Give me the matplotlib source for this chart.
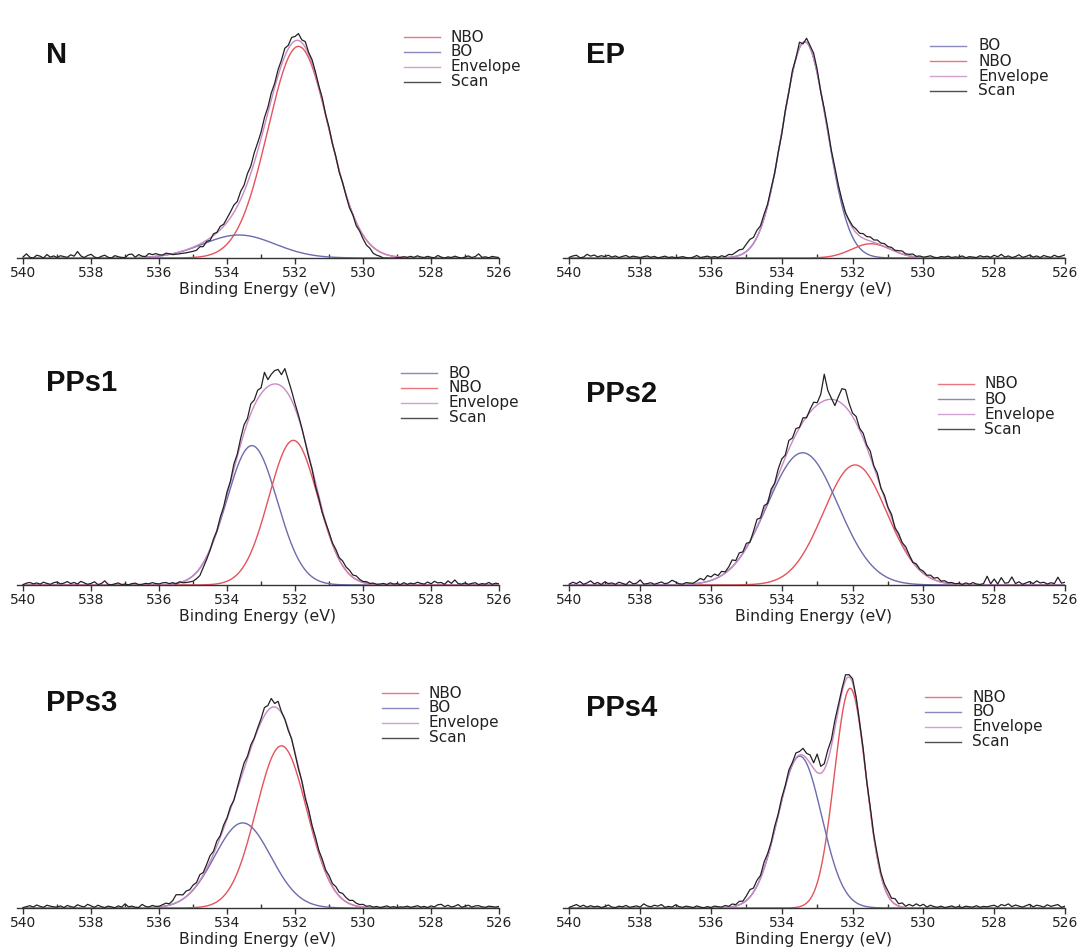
import numpy as np
import matplotlib
matplotlib.use("Agg")
import matplotlib.pyplot as plt
from matplotlib.lines import Line2D
from matplotlib.ticker import MultipleLocator

W, H, DPI = 1081, 949, 100

# scan grid (eV), one residual value per point
E_FIRST, E_LAST, E_STEP = 540.0, 526.0, 0.1

# fitted components: (centre eV, height a.u., fwhm eV)
N_NBO = (531.9, 92.0, 2.12)
N_BO = (533.65, 10.0, 2.5)
EP_BO = (533.35, 94.0, 1.47)
EP_NBO = (531.48, 6.2, 1.3)
PPS1_BO = (533.27, 60.6, 1.75)
PPS1_NBO = (532.05, 62.9, 1.7)
PPS2_NBO = (531.93, 52.2, 2.1)
PPS2_BO = (533.41, 57.5, 2.35)
PPS3_NBO = (532.4, 70.5, 1.75)
PPS3_BO = (533.54, 37.0, 1.95)
PPS4_NBO = (532.07, 95.5, 1.05)
PPS4_BO = (533.49, 66.0, 1.45)

# scan minus envelope (540.0 -> 526.0 eV)
N_RESID = [0.5, 1.8, 0.3, 0, 1.2, 0.8, 0, 1.5, 0.4, 0.9,
           0.2, 1.0, 0.6, 0.3, 1.4, 0.8, 2.8, 0.9, 0.2, 1.1,
           1.6, 0.4, 0, 0.7, 1.2, 0.3, 0, 1.0, 0.5, 0.2,
           0.1, 1.4, 1.6, 0.2, 1.3, 0.5, 0.3, 1.5, 0.9, 1.2,
           0.6, 0.2, 0.8, 0.3, -0.4, -0.6, -0.8, -1.0, -1.3, -1.5,
           -1.8, -2.0, -1.2, -1.9, -0.5, -1.0, 0.8, 0.2, 1.5, 0.9,
           1.8, 2.5, 3.2, 2.1, 3.5, 2.8, 4.0, 3.1, 4.2, 3.5,
           2.8, 3.6, 2.4, 3.0, 1.8, 2.6, 2.2, 3.4, 1.5, 2.7,
           1.9, 3.0, 1.2, 2.5, 0.8, 1.6, 1.0, 0.3, 0.9, -0.2,
           0.5, -0.4, 0.3, -0.8, 0.2, -0.5, -1.2, -0.3, -1.5, -0.8,
           -1.6, -2.2, -1.8, -2.6, -2.3, -1.9, -2.0, -1.5, -1.2, -0.9,
           -0.3, -0.2, 0.3, 0.1, 0.6, 0.2, 0.9, 0.4, 0.2, 0.7,
           0.3, 0.1, 1.1, 0.4, 0, 0.5, 0.2, 0.8, 0.3, 0,
           0.4, 0.9, 0.2, 0.6, 1.8, 0.3, 0.5, 0.1, 0.7, 0.4,
           0.2]
EP_RESID = [0.3, 0.9, 1.2, 0.1, 0.4, 1.6, 0.8, 1.3, 0.5, 1.0,
            0.6, 1.2, 0.4, 0.9, 0.2, 0.7, 1.1, 0.3, 0.8, 0.5,
            0.2, 0.6, 0.9, 0.3, 0.7, 0.1, 0.4, 0.8, 0.2, 0.5,
            0.1, 0.3, 0.6, 0.2, 0, 0.4, 1.1, 0.2, 0.5, 0.8,
            0.3, 0.6, 0.2, 0.9, 0.4, 1.3, 1.0, 1.8, 2.4, 2.0,
            3.2, 3.8, 2.6, 3.0, 1.4, 1.8, 0.6, 0.9, -0.3, 0.4,
            -0.8, 0.5, -0.4, 1.2, 0.2, 2.5, -0.6, 1.8, 0.9, 2.2,
            1.5, -0.5, 0.8, 1.2, 0.3, 1.0, 0.4, 0.2, -0.3, 0.6,
            0.9, 1.6, 1.2, 2.0, 1.4, 1.8, 1.0, 1.5, 0.8, 1.2,
            0.6, 1.0, 0.4, 0.9, 1.3, 0.5, 0.7, 1.1, 0.3, 0.6,
            0.2, 0.5, 0.9, 0.3, 0.1, 0.6, 0.4, 0.8, 0.2, 0.5,
            0.3, 0.9, 0.1, 0.6, 0.4, 0.2, 1.0, 0.5, 0.8, 0.3,
            1.2, 0.5, 1.6, 0.4, 0.9, 0.2, 0.6, 1.4, 0.3, 0.7,
            1.3, 0.4, 0.9, 0.2, 1.1, 0.6, 0.3, 1.2, 0.5, 0.8,
            1.4]
PPS1_RESID = [0.2, 0.8, 1.1, 0.5, 0.9, 0.4, 1.2, 0.7, 0.3, 1.0,
              1.3, 0.5, 0.8, 1.5, 0.6, 1.1, 0.4, 1.6, 0.9, 0.3,
              0.7, 1.4, 0.2, 0.6, 1.8, 0.3, 0.1, 0.5, 0.9, 0.2,
              0.4, 0.1, 0.6, 0.8, 0.2, 0.3, 0.7, 0.5, 1.0, 0.6,
              0.4, 0.8, 0.9, 0.3, 0.6, -0.2, 0.4, -0.5, -1.0, -1.6,
              -2.4, -2.8, -3.2, -2.0, -1.2, -0.5, 0.6, -0.2, 1.0, 0.4,
              1.5, 0.5, 2.2, 1.0, 2.6, 3.5, 1.8, 4.2, 2.4, 3.8,
              2.5, 7.5, 3.0, 4.5, 5.8, 6.5, 5.0, 9.0, 6.2, 4.0,
              2.0, 1.2, 0.5, -0.5, -1.0, -0.3, -1.5, -0.8, -1.2, -0.2,
              0.5, 0.2, 1.2, 0.8, 2.0, 1.5, 1.8, 1.0, 1.6, 0.8,
              0.4, 0.7, 0.2, 0.5, 0.1, 0.3, 0.6, 0.2, 0.9, 0.4,
              0.6, 0.2, 1.0, 0.3, 0.8, 0.5, 1.2, 0.7, 0.4, 1.3,
              0.5, 1.6, 0.9, 1.1, 0.3, 1.8, 0.7, 2.2, 0.6, 0.4,
              0.9, 0.3, 0.7, 1.0, 0.2, 0.6, 0.4, 1.1, 0.3, 0.8,
              0.5]
PPS2_RESID = [0.4, 1.2, 0.6, 1.5, 0.3, 0.9, 1.8, 0.5, 1.1, 0.2,
              1.4, 0.6, 0.9, 0.3, 1.2, 0.7, 0.2, 1.6, 0.5, 0.8,
              2.2, 0.4, 0.6, 1.0, 0.3, 0.8, 1.3, 0.5, 0.9, 2.0,
              1.2, 0.4, 0.2, 0.8, 0.5, 0.3, 1.1, 2.0, 1.0, 2.6,
              1.5, 2.2, 0.8, 1.8, 0.5, 1.4, 3.0, 1.0, 2.4, 0.6,
              1.8, -0.5, 1.2, 3.2, 0.4, 2.0, -0.8, 1.5, 0.2, 2.5,
              3.0, 1.0, 3.8, 1.5, 2.5, 0.2, 1.8, -0.5, 1.2, 2.6,
              1.0, 3.5, 11.5, 4.0, 0.5, -2.5, 2.0, 6.5, 7.5, 3.5,
              1.5, 2.8, 0.8, 2.2, 1.0, 2.5, 0.5, 1.8, -0.2, 1.2,
              0.4, 1.5, -0.6, 0.8, 0.2, 1.4, 0.5, -0.4, 0.9, 0.3,
              0.8, 0.2, 1.2, 0.6, 1.5, 0.4, 0.9, 0.3, 0.6, 0.2,
              0.5, 0.1, 0.8, 0.3, 1.0, 0.4, 0.2, 0.6, 3.8, 0.5,
              2.6, 0.4, 3.2, 0.8, 1.0, 3.5, 0.6, 1.4, 0.3, 0.9,
              1.5, 0.6, 1.8, 0.9, 1.2, 0.4, 1.0, 0.6, 3.4, 0.8,
              1.2]
PPS3_RESID = [0.2, 0.6, 1.0, 0.4, 1.3, 0.7, 0.3, 1.2, 0.8, 0.5,
              0.4, 0.9, 0.2, 1.1, 0.6, 0.3, 1.4, 0.8, 0.5, 1.6,
              0.9, 0.3, 1.2, 0.6, 0.2, 0.8, 0.5, 0.1, 0.9, 0.4,
              1.8, 0.5, 0.8, 0.3, 0.2, 1.5, 0.6, 0.3, 0.9, 0.4,
              0.3, 0.8, 1.2, 0.6, 1.5, 3.5, 2.8, 1.8, 2.4, 1.5,
              2.0, 1.2, 2.5, 1.0, 1.8, 2.6, 1.2, 2.2, 0.8, 1.5,
              0.6, 1.2, -0.4, 0.8, 1.8, 2.5, 1.0, 1.6, 0.4, 0.9,
              1.5, 3.5, 2.2, 4.0, 1.5, 3.2, 0.5, 0.2, -0.8, 0.4,
              -0.5, -1.0, 0.3, -0.6, 0.8, 0.2, 1.0, 0.5, 1.4, 0.8,
              1.8, 1.2, 2.2, 1.6, 2.5, 1.8, 1.4, 2.0, 1.2, 0.9,
              1.2, 0.5, 0.8, 0.3, 0.6, 0.2, 0.5, 0.9, 0.3, 0.6,
              0.2, 0.5, 0.4, 0.8, 0.3, 0.6, 1.0, 0.4, 0.7, 0.2,
              0.9, 0.5, 1.4, 1.6, 0.6, 1.2, 0.4, 0.8, 1.5, 0.3,
              0.8, 1.2, 0.4, 0.9, 1.0, 0.5, 0.3, 0.8, 0.6, 0.4,
              0.7]
PPS4_RESID = [0.3, 0.9, 1.5, 0.6, 1.2, 0.4, 1.0, 0.5, 0.8, 0.2,
              0.6, 1.3, 0.4, 0.2, 0.8, 0.5, 1.1, 0.3, 0.6, 0.9,
              0.4, 1.8, 0.9, 0.5, 1.2, 0.8, 1.5, 0.3, 0.7, 0.4,
              1.4, 0.6, 0.3, 0.8, 0.5, 0.2, 0.9, 0.4, 0.1, 0.6,
              0.2, 0.8, 0.5, 0.3, 0.9, 0.4, 1.2, 0.6, 1.5, 0.8,
              2.0, 3.2, 1.8, 2.5, 1.2, 2.8, 1.5, 0.8, 1.6, 0.5,
              1.2, 0.4, 1.8, 0.9, 2.2, 1.5, 3.0, 2.2, 3.6, 2.5,
              8.0, 3.0, 2.5, 4.5, 2.8, 3.5, 2.0, 1.5, 2.5, 1.0,
              1.8, 0.5, -0.8, 0.5, -0.5, 1.2, 0.6, 1.5, 1.0, 1.4,
              2.0, 1.2, 2.4, 1.0, 1.8, 0.6, 1.5, 0.8, 1.8, 0.9,
              1.6, 0.4, 1.2, 0.6, 0.3, 0.8, 0.2, 0.5, 0.9, 0.3,
              0.6, 0.2, 0.8, 0.5, 0.4, 1.0, 0.3, 0.7, 0.5, 0.9,
              1.2, 0.4, 1.5, 1.0, 1.8, 0.6, 1.3, 0.8, 0.4, 1.0,
              1.6, 0.5, 1.2, 0.9, 0.4, 1.4, 0.7, 1.1, 1.5, 0.3,
              0.8]

COLORS = {'NBO': '#e5535c', 'BO': '#6c6cae', 'Envelope': '#c98ac6', 'Scan': '#222222'}

# title, components in legend order, residual, column, row,
# title baseline y px, legend (line x, text x, first row y) in px
PANELS = [
    ('N', [('NBO', N_NBO), ('BO', N_BO)], N_RESID, 0, 0, 63, (404, 451, 37)),
    ('EP', [('BO', EP_BO), ('NBO', EP_NBO)], EP_RESID, 1, 0, 63, (930, 978, 46)),
    ('PPs1', [('BO', PPS1_BO), ('NBO', PPS1_NBO)], PPS1_RESID, 0, 1, 391, (401, 449, 373)),
    ('PPs2', [('NBO', PPS2_NBO), ('BO', PPS2_BO)], PPS2_RESID, 1, 1, 402, (938, 984, 384)),
    ('PPs3', [('NBO', PPS3_NBO), ('BO', PPS3_BO)], PPS3_RESID, 0, 2, 711, (382, 429, 693)),
    ('PPs4', [('NBO', PPS4_NBO), ('BO', PPS4_BO)], PPS4_RESID, 1, 2, 716, (925, 972, 697)),
]

COL_X = [(17, 499), (563, 1065)]
ROW_BASE = [258, 585, 908]
AX_H = 253
Y_TOP = 110


def gauss(e, centre, height, fwhm):
    return height * np.exp(-4 * np.log(2) * ((e - centre) / fwhm) ** 2)


def fx(px):
    return px / W


def fy(py):
    return 1 - py / H


fig = plt.figure(figsize=(W / DPI, H / DPI), dpi=DPI)
fig.patch.set_facecolor('white')

e_scan = np.linspace(E_FIRST, E_LAST, len(N_RESID))
e_fine = np.linspace(E_FIRST, E_LAST, 1401)

for title, comps, resid, col, row, title_y, leg in PANELS:
    x0, x1 = COL_X[col]
    base = ROW_BASE[row]
    ax = fig.add_axes([fx(x0), fy(base), fx(x1 - x0), AX_H / H])

    env_fine = np.zeros_like(e_fine)
    env_scan = np.zeros_like(e_scan)
    for name, (c, h, w) in comps:
        ax.plot(e_fine, gauss(e_fine, c, h, w), color=COLORS[name], lw=1.0)
        env_fine += gauss(e_fine, c, h, w)
        env_scan += gauss(e_scan, c, h, w)
    ax.plot(e_fine, env_fine, color=COLORS['Envelope'], lw=1.0)
    ax.plot(e_scan, env_scan + np.array(resid), color=COLORS['Scan'], lw=0.9)

    ax.set_xlim(540.18, 526)
    ax.set_ylim(0, Y_TOP)
    for s in ['top', 'left', 'right']:
        ax.spines[s].set_visible(False)
    ax.spines['bottom'].set_color('#333333')
    ax.spines['bottom'].set_linewidth(1.0)
    ax.set_yticks([])
    ax.xaxis.set_major_locator(MultipleLocator(2))
    ax.xaxis.set_minor_locator(MultipleLocator(1))
    ax.tick_params(axis='x', which='major', direction='out', length=4.5, width=1,
                   color='#333333', labelsize=10, labelcolor='#222222', pad=1.5)
    ax.tick_params(axis='x', which='minor', direction='in', length=3, width=1, color='#333333')
    ax.set_xlabel('Binding Energy (eV)', fontsize=11.3, color='#222222', labelpad=1.5)
    ax.patch.set_alpha(0)

    fig.text(fx(46 if col == 0 else 586), fy(title_y), title, fontsize=21,
             fontweight='bold', family='Liberation Sans', color='#111111', va='baseline')

    lx, tx, ly = leg
    names = [n for n, _ in comps] + ['Envelope', 'Scan']
    for k, name in enumerate(names):
        yy = ly + 15 * k
        fig.add_artist(Line2D([fx(lx), fx(lx + 36)], [fy(yy), fy(yy)],
                              color=COLORS[name], lw=1.0, alpha=0.8))
        fig.text(fx(tx), fy(yy), name, fontsize=11, color='#222222', va='center')

fig.savefig('out.png', dpi=DPI, facecolor='white')
